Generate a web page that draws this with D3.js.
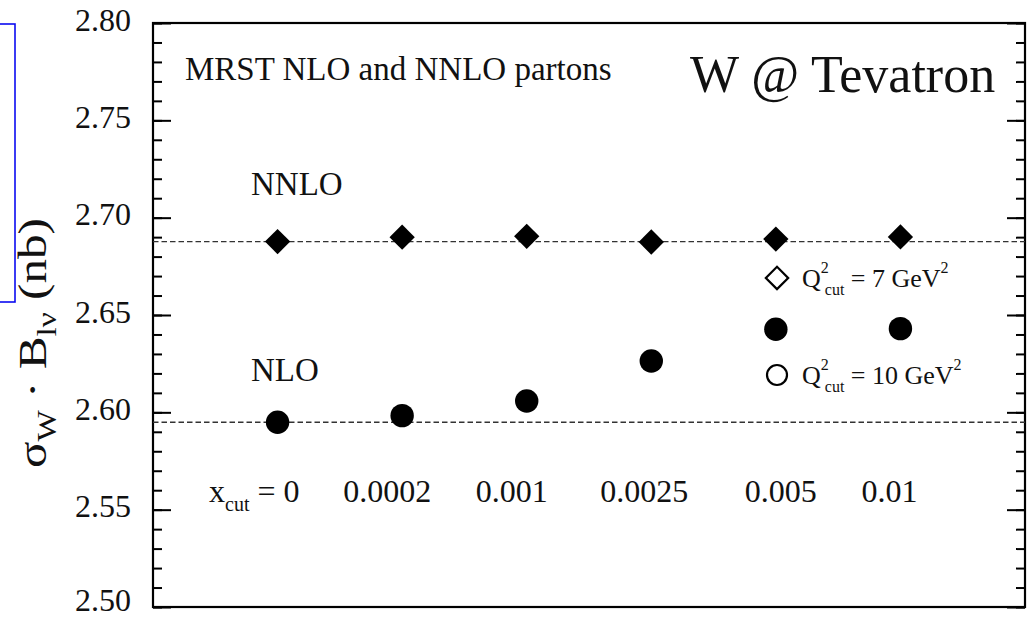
<!DOCTYPE html>
<html>
<head>
<meta charset="utf-8">
<script src="https://cdn.jsdelivr.net/npm/d3@7"></script>
<style>
  html, body { margin: 0; padding: 0; background: #fff; }
  svg { display: block; }
  text { font-family: "Liberation Serif", "DejaVu Serif", serif; fill: #111; }
</style>
</head>
<body>
<svg id="chart" width="1029" height="618"></svg>
<script>
// ---- data ----
const categories = ["0", "0.0002", "0.001", "0.0025", "0.005", "0.01"];
const nnloValues = [2.6877, 2.6900, 2.6904, 2.6875, 2.6890, 2.6901];
const nloValues  = [2.5949, 2.5983, 2.6058, 2.6264, 2.6427, 2.6430];
const referenceLines = [2.6877, 2.5949];
const yDomain = [2.50, 2.80];
const yMajorStep = 0.05;
const yMinorStep = 0.01;

// ---- layout ----
const plotL = 153, plotR = 1025, plotT = 23, plotB = 607;
const svg = d3.select("#chart");

const x = d3.scalePoint().domain(categories).range([plotL, plotR]).padding(1);
const y = d3.scaleLinear().domain(yDomain).range([plotB, plotT]);

// blue box at far left
svg.append("rect").attr("x", -3).attr("y", 24).attr("width", 18).attr("height", 278)
  .attr("fill", "none").attr("stroke", "#0a0af0").attr("stroke-width", 1.6);

// axes ticks
const majorTicks = d3.range(yDomain[0], yDomain[1] + 1e-9, yMajorStep);
const minorTicks = d3.range(yDomain[0], yDomain[1] + 1e-9, yMinorStep);

function styleAxis(g) {
  g.select(".domain").remove();
  g.selectAll(".tick line").attr("stroke", "#000").attr("stroke-width", 2);
}

svg.append("g").attr("transform", `translate(${plotL},0)`)
  .call(d3.axisLeft(y).tickValues(minorTicks).tickSize(-9).tickFormat(""))
  .call(styleAxis);
svg.append("g").attr("transform", `translate(${plotL},0)`)
  .call(d3.axisLeft(y).tickValues(majorTicks).tickSize(-18).tickPadding(22).tickFormat(d3.format(".2f")))
  .call(styleAxis)
  .call(g => g.selectAll(".tick text").attr("font-size", 32)
    .attr("font-family", "Liberation Serif").attr("fill", "#111")
    .attr("dy", d => (y(d) > plotB - 5 ? "0.1em" : "0.22em")));
svg.append("g").attr("transform", `translate(${plotR},0)`)
  .call(d3.axisRight(y).tickValues(minorTicks).tickSize(-9).tickFormat(""))
  .call(styleAxis);
svg.append("g").attr("transform", `translate(${plotR},0)`)
  .call(d3.axisRight(y).tickValues(majorTicks).tickSize(-18).tickFormat(""))
  .call(styleAxis);

// frame
svg.append("rect").attr("x", plotL).attr("y", plotT).attr("width", plotR - plotL).attr("height", plotB - plotT)
  .attr("fill", "none").attr("stroke", "#000").attr("stroke-width", 2.2);

// dashed reference lines
svg.selectAll(".ref").data(referenceLines).enter().append("line")
  .attr("x1", plotL).attr("x2", plotR)
  .attr("y1", d => y(d)).attr("y2", d => y(d))
  .attr("stroke", "#333").attr("stroke-width", 1.3).attr("stroke-dasharray", "5.5,3");

// markers
const diamond = d3.symbol().type(d3.symbolSquare).size(320);
svg.selectAll(".nnlo").data(nnloValues).enter().append("path")
  .attr("d", diamond)
  .attr("transform", (d, i) => `translate(${x(categories[i])},${y(d)}) rotate(45)`)
  .attr("fill", "#000");
svg.selectAll(".nlo").data(nloValues).enter().append("circle")
  .attr("cx", (d, i) => x(categories[i])).attr("cy", d => y(d)).attr("r", 11.7)
  .attr("fill", "#000");

// texts
svg.append("text").attr("x", 185).attr("y", 80).attr("font-size", 33).text("MRST NLO and NNLO partons");
svg.append("text").attr("x", 690).attr("y", 92).attr("font-size", 52).text("W @ Tevatron");
svg.append("text").attr("x", 251).attr("y", 195).attr("font-size", 33).text("NNLO");
svg.append("text").attr("x", 251).attr("y", 381).attr("font-size", 33).text("NLO");

// x category labels
const labelDx = [22, -15, -15, -7, 5, -11];
categories.forEach((c, i) => {
  const t = svg.append("text").attr("y", 502).attr("font-size", 32);
  if (i === 0) {
    t.attr("x", x(c) + labelDx[i]).attr("text-anchor", "end");
    t.append("tspan").text("x");
    t.append("tspan").attr("font-size", 20).attr("dy", 9).text("cut");
    t.append("tspan").attr("dy", -9).text(" = " + c);
  } else {
    t.attr("x", x(c) + labelDx[i]).attr("text-anchor", "middle").text(c);
  }
});

// legend
const legendX = 777;
const legendItems = [
  { shape: "diamond", cy: 278, label: "7" },
  { shape: "circle", cy: 375, label: "10" }
];
legendItems.forEach(item => {
  if (item.shape === "diamond") {
    svg.append("path").attr("d", d3.symbol().type(d3.symbolSquare).size(250))
      .attr("transform", `translate(${legendX},${item.cy}) rotate(45)`)
      .attr("fill", "#fff").attr("stroke", "#000").attr("stroke-width", 2.2);
  } else {
    svg.append("circle").attr("cx", legendX).attr("cy", item.cy).attr("r", 10)
      .attr("fill", "#fff").attr("stroke", "#000").attr("stroke-width", 2.2);
  }
  const t = svg.append("text").attr("x", legendX + 25).attr("y", item.cy + 9).attr("font-size", 26);
  t.append("tspan").text("Q");
  t.append("tspan").attr("font-size", 16).attr("dy", -14).text("2");
  t.append("tspan").attr("font-size", 16).attr("dx", -4).attr("dy", 22).text("cut");
  t.append("tspan").attr("dy", -8).text(" = " + item.label + " GeV");
  t.append("tspan").attr("font-size", 16).attr("dy", -14).text("2");
});

// y-axis title (rotated)
const yt = svg.append("text")
  .attr("transform", `translate(46,${(plotT + plotB) / 2 + 28}) rotate(-90)`)
  .attr("text-anchor", "middle").attr("font-size", 40)
  .attr("textLength", 250).attr("lengthAdjust", "spacingAndGlyphs");
yt.append("tspan").text("σ");
yt.append("tspan").attr("font-size", 27).attr("dy", 10).text("W");
yt.append("tspan").attr("dy", -10).text(" · B");
yt.append("tspan").attr("font-size", 27).attr("dy", 10).text("lν");
yt.append("tspan").attr("dy", -10).text(" (nb)");
</script>
</body>
</html>
